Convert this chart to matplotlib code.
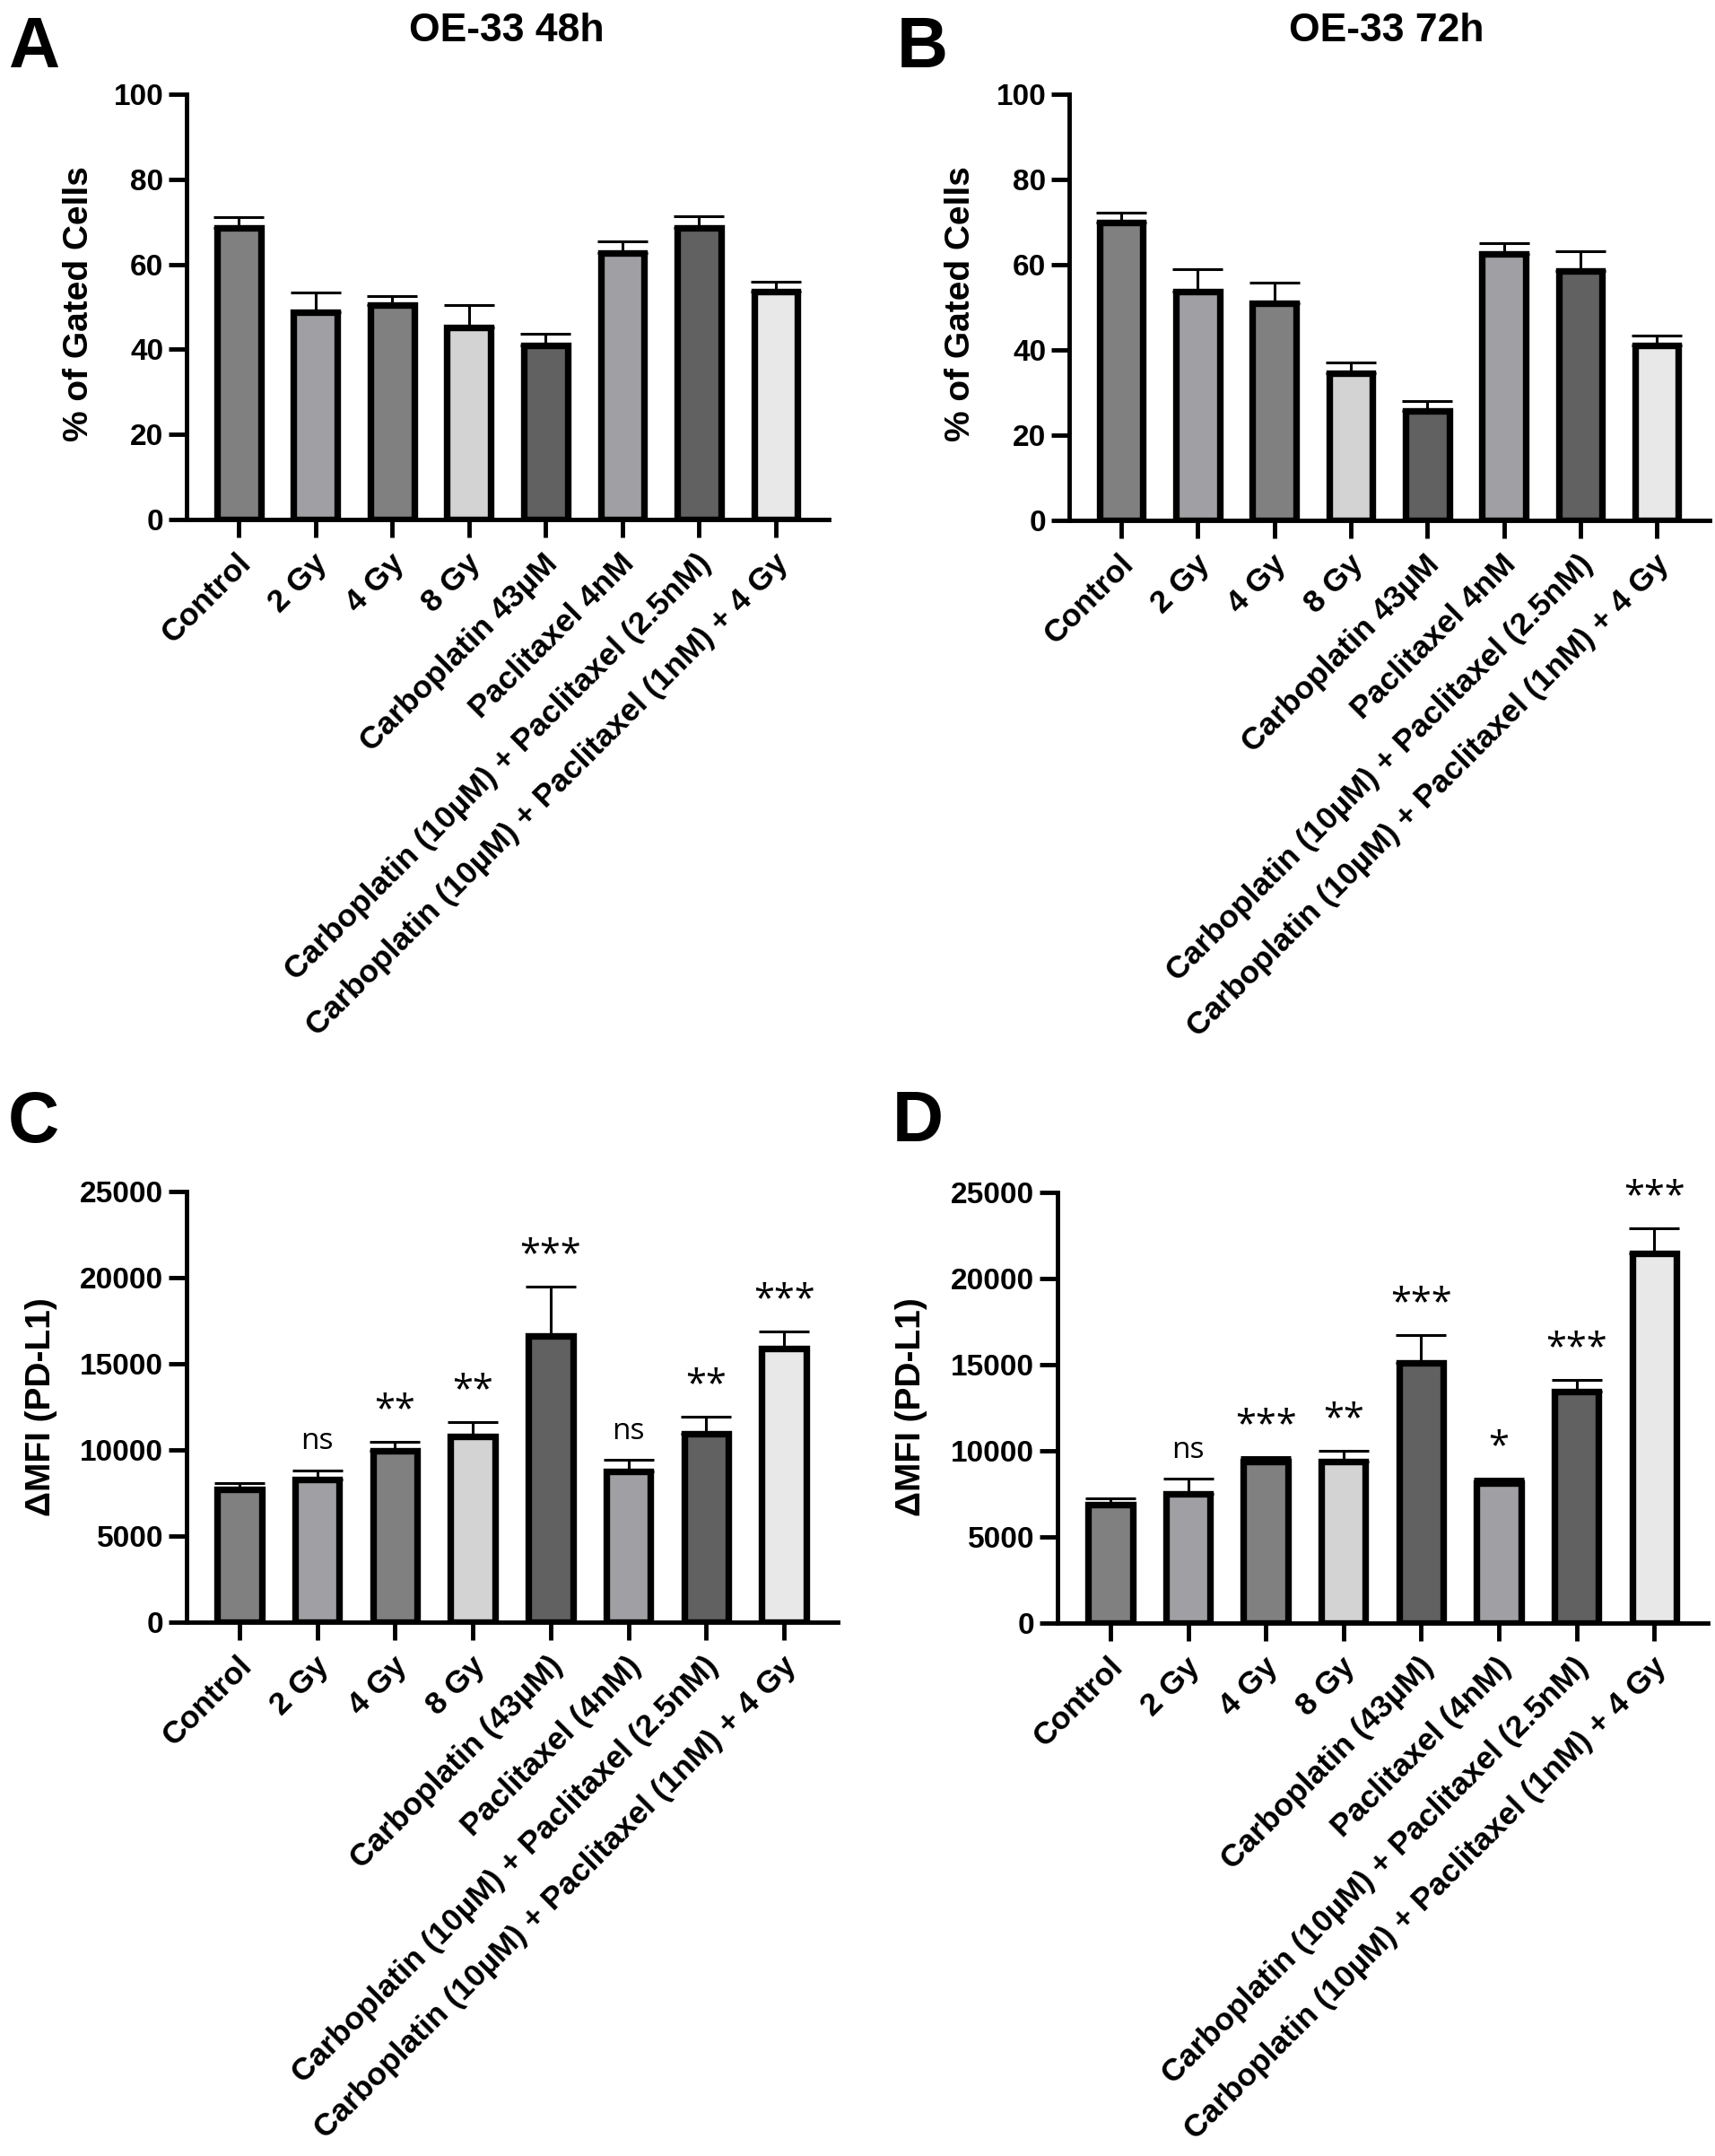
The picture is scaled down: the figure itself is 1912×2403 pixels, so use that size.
import numpy as np
import matplotlib
matplotlib.use("Agg")
import matplotlib.pyplot as plt
from matplotlib.transforms import ScaledTranslation

plt.rcParams['font.family'] = ['Liberation Sans', 'DejaVu Sans']
plt.rcParams['font.weight'] = 'bold'

# data
labels_ab = ['Control', '2 Gy', '4 Gy', '8 Gy', 'Carboplatin 43µM', 'Paclitaxel 4nM',
             'Carboplatin (10µM) + Paclitaxel (2.5nM)',
             'Carboplatin (10µM) + Paclitaxel (1nM) + 4 Gy']
labels_cd = ['Control', '2 Gy', '4 Gy', '8 Gy', 'Carboplatin (43µM)', 'Paclitaxel (4nM)',
             'Carboplatin (10µM) + Paclitaxel (2.5nM)',
             'Carboplatin (10µM) + Paclitaxel (1nM) + 4 Gy']

gated_48h = [68.5, 48.8, 50.4, 45.1, 40.9, 62.6, 68.5, 53.6]
gated_48h_err = [2.7, 4.5, 2.1, 5.4, 2.7, 2.7, 2.9, 2.3]
gated_72h = [70.0, 53.7, 51.0, 34.5, 25.7, 62.6, 58.5, 41.0]
gated_72h_err = [2.2, 5.3, 4.7, 2.5, 2.2, 2.4, 4.7, 2.3]

mfi_48h = [7720, 8260, 9930, 10800, 16600, 8770, 10930, 15900]
mfi_48h_err = [350, 550, 540, 830, 2870, 650, 1000, 960]
mfi_72h = [6900, 7500, 9380, 9380, 15100, 8100, 13420, 21470]
mfi_72h_err = [320, 870, 250, 620, 1640, 270, 680, 1460]

sig_48h = ['', 'ns', '**', '**', '***', 'ns', '**', '***']
sig_72h = ['', 'ns', '***', '**', '***', '*', '***', '***']

bar_colors = ['#808080', '#a0a0a4', '#808080', '#d3d3d3',
              '#616161', '#a0a0a4', '#616161', '#e8e8e8']

W, H = 1912, 2403
fig = plt.figure(figsize=(W / 100, H / 100), dpi=100)


def px_axes(x0, ytop, x1, ybot):
    return fig.add_axes([x0 / W, 1 - ybot / H, (x1 - x0) / W, (ybot - ytop) / H])


def draw_panel(ax, labels, vals, errs, ymax, yticks, sig=None):
    x = np.arange(len(vals))
    ax.errorbar(x, vals, yerr=[np.zeros(len(errs)), errs], fmt='none', ecolor='black',
                elinewidth=2.2, capsize=20, capthick=2.2, zorder=2)
    ax.bar(x, vals, width=0.57, color=bar_colors, edgecolor='black',
           linewidth=5.3, zorder=3)
    ax.set_xlim(-0.68, 7.69)
    ax.set_ylim(0, ymax)
    ax.set_yticks(yticks)
    ax.set_xticks(x)
    ax.set_xticklabels(labels, rotation=45, ha='right', va='center',
                       rotation_mode='anchor')
    for sp in ['top', 'right']:
        ax.spines[sp].set_visible(False)
    for sp in ['left', 'bottom']:
        ax.spines[sp].set_linewidth(3.5)
    ax.tick_params(axis='both', direction='out', length=14.5, width=3.5)
    ax.tick_params(axis='y', pad=4, labelsize=24)
    ax.tick_params(axis='x', pad=0, labelsize=25.5)
    off = ScaledTranslation(6 / 72, -17 / 72, fig.dpi_scale_trans)
    for lab in ax.get_xticklabels():
        lab.set_transform(lab.get_transform() + off)
        lab.set_fontweight('bold')
    for lab in ax.get_yticklabels():
        lab.set_fontweight('bold')
    if sig is not None:
        for i, s in enumerate(sig):
            if s:
                size = 24 if s == 'ns' else 30
                ax.annotate(s, xy=(i, vals[i] + errs[i]), xytext=(0, 17),
                            textcoords='offset points', ha='center', va='baseline',
                            fontsize=size, fontweight='normal',
                            family=['Open Sans', 'DejaVu Sans'])


axA = px_axes(208, 105, 924, 579)
draw_panel(axA, labels_ab, gated_48h, gated_48h_err, 100, [0, 20, 40, 60, 80, 100])
axB = px_axes(1192, 105, 1906, 580)
draw_panel(axB, labels_ab, gated_72h, gated_72h_err, 100, [0, 20, 40, 60, 80, 100])
axC = px_axes(208, 1328, 934, 1808)
draw_panel(axC, labels_cd, mfi_48h, mfi_48h_err, 25000,
           [0, 5000, 10000, 15000, 20000, 25000], sig_48h)
axD = px_axes(1179, 1329, 1904, 1809)
draw_panel(axD, labels_cd, mfi_72h, mfi_72h_err, 25000,
           [0, 5000, 10000, 15000, 20000, 25000], sig_72h)

# y labels, titles, panel letters
fig.text(88 / W, 1 - 339 / H, '% of Gated Cells', rotation=90, ha='center', va='center',
         fontsize=28, fontweight='bold')
fig.text(1071 / W, 1 - 339 / H, '% of Gated Cells', rotation=90, ha='center', va='center',
         fontsize=28, fontweight='bold')
fig.text(46 / W, 1 - 1568 / H, 'ΔMFI (PD-L1)', rotation=90, ha='center', va='center',
         fontsize=28, fontweight='bold')
fig.text(1016 / W, 1 - 1568 / H, 'ΔMFI (PD-L1)', rotation=90, ha='center', va='center',
         fontsize=28, fontweight='bold')

fig.text(565 / W, 1 - 46 / H, 'OE-33 48h', ha='center', va='baseline',
         fontsize=32, fontweight='bold')
fig.text(1546 / W, 1 - 46 / H, 'OE-33 72h', ha='center', va='baseline',
         fontsize=32, fontweight='bold')

for letter, lx, ly in [('A', 9, 75), ('B', 1000, 75), ('C', 9, 1273), ('D', 995, 1272)]:
    fig.text(lx / W, 1 - ly / H, letter, ha='left', va='baseline',
             fontsize=57, fontweight='bold')

fig.savefig('out.png', dpi=100)
